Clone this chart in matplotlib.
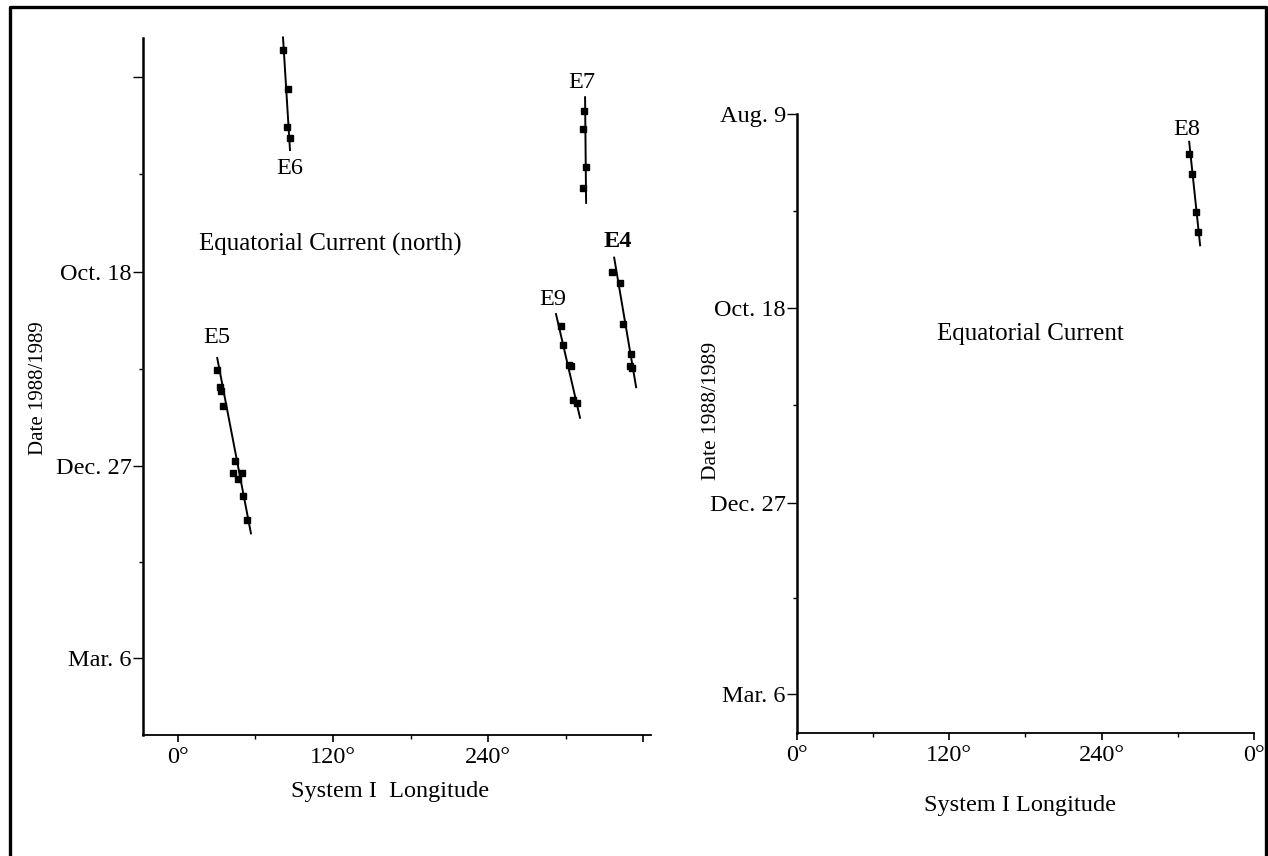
import matplotlib
matplotlib.use("Agg")
import matplotlib.pyplot as plt
from matplotlib.lines import Line2D

plt.rcParams["font.family"] = ["Liberation Serif", "DejaVu Serif"]

# Dates are given as days after Oct. 18, 1988 (Aug. 9 = -70, Mar. 6 1989 = 139)
date_ticks = [-70, 0, 70, 139]
date_minor = [-35, 35, 104.5]
left_date_labels = ["", "Oct. 18", "Dec. 27", "Mar. 6"]
right_date_labels = ["Aug. 9", "Oct. 18", "Dec. 27", "Mar. 6"]

lon_ticks = [0, 120, 240, 360]
lon_minor = [60, 180, 300]
left_lon_labels = ["0°", "120°", "240°", ""]
right_lon_labels = ["0°", "120°", "240°", "0°"]

# Equatorial current (north) features: longitude (deg), day
e6_lon = [81.3, 84.8, 84.1, 86.7]
e6_day = [-79.6, -65.6, -52.0, -48.0]
e6_fit_lon = [81.3, 86.7]
e6_fit_day = [-84.2, -43.7]

e7_lon = [313.8, 313.2, 315.8, 313.5]
e7_day = [-57.8, -51.2, -37.5, -30.1]
e7_fit_lon = [315.0, 315.8]
e7_fit_day = [-62.7, -24.7]

e4_lon = [336.0, 342.4, 344.2, 350.2, 349.6, 351.5]
e4_day = [0.0, 4.2, 18.9, 29.6, 34.0, 34.8]
e4_fit_lon = [337.5, 354.5]
e4_fit_day = [-5.0, 41.6]

e9_lon = [296.3, 297.8, 302.2, 304.0, 305.6, 308.7]
e9_day = [19.7, 26.3, 33.7, 34.0, 46.3, 47.2]
e9_fit_lon = [292.5, 311.1]
e9_fit_day = [15.3, 52.6]

e5_lon = [30.4, 32.5, 33.5, 35.1, 44.1, 42.8, 49.8, 46.7, 50.1, 53.2]
e5_day = [35.6, 41.6, 43.0, 48.5, 68.1, 72.6, 72.3, 74.6, 80.6, 89.4]
e5_fit_lon = [30.4, 56.5]
e5_fit_day = [31.1, 94.2]

# Equatorial current feature
e8_lon = [309.0, 311.4, 314.5, 315.8]
e8_day = [-55.5, -48.5, -34.8, -27.6]
e8_fit_lon = [309.0, 317.6]
e8_fit_day = [-60.0, -22.7]


def style_axes(ax, date_labels, lon_labels):
    for side in ["top", "right"]:
        ax.spines[side].set_visible(False)
    ax.spines["left"].set_linewidth(1.8)
    ax.spines["bottom"].set_linewidth(1.3)
    ax.set_yticks(date_ticks)
    ax.set_yticklabels(date_labels)
    ax.set_yticks(date_minor, minor=True)
    ax.set_xticks(lon_ticks)
    ax.set_xticklabels(lon_labels)
    ax.set_xticks(lon_minor, minor=True)
    ax.tick_params(axis="y", which="major", length=7, width=1, pad=1, labelsize=17.5)
    ax.tick_params(axis="y", which="minor", length=3, width=1)
    ax.tick_params(axis="x", which="major", length=5, width=1.2, pad=4, labelsize=17.5)
    ax.tick_params(axis="x", which="minor", length=3, width=1)


def draw_feature(ax, lon, day, fit_lon, fit_day):
    ax.plot(fit_lon, fit_day, color="black", lw=1.4, clip_on=False)
    ax.plot(lon, day, "s", color="black", ms=4.5, clip_on=False)


fig = plt.figure(figsize=(12.68, 8.56), dpi=100)

# Left panel
ax1 = fig.add_axes([0.1128, 0.1414, 0.4006, 0.8142])
ax1.set_xlim(-27, 366)
ax1.set_ylim(166.7, -84)
style_axes(ax1, left_date_labels, left_lon_labels)
for lon, day, flon, fday in [
    (e6_lon, e6_day, e6_fit_lon, e6_fit_day),
    (e7_lon, e7_day, e7_fit_lon, e7_fit_day),
    (e4_lon, e4_day, e4_fit_lon, e4_fit_day),
    (e9_lon, e9_day, e9_fit_lon, e9_fit_day),
    (e5_lon, e5_day, e5_fit_lon, e5_fit_day),
]:
    draw_feature(ax1, lon, day, flon, fday)
ax1.text(86.8, -37, "E6", fontsize=17.5, ha="center", va="center")
ax1.text(312.8, -68.1, "E7", fontsize=17.5, ha="center", va="center")
ax1.text(340.2, -10.7, "E4", fontsize=17.5, ha="center", va="center", fontweight="bold")
ax1.text(290, 10.1, "E9", fontsize=17.5, ha="center", va="center")
ax1.text(30, 23.9, "E5", fontsize=17.5, ha="center", va="center")
ax1.text(117.7, -9.7, "Equatorial Current (north)", fontsize=18,
         ha="center", va="center")

# Right panel
ax2 = fig.add_axes([0.6285, 0.1437, 0.3604, 0.7231])
ax2.set_xlim(0, 360)
ax2.set_ylim(153, -70)
style_axes(ax2, right_date_labels, right_lon_labels)
draw_feature(ax2, e8_lon, e8_day, e8_fit_lon, e8_fit_day)
ax2.text(306.8, -64.5, "E8", fontsize=17.5, ha="center", va="center")
ax2.text(183.6, 9.4, "Equatorial Current", fontsize=18, ha="center", va="center")

# Axis labels
fig.text(0.030, 0.5467, "Date 1988/1989", rotation=90, fontsize=15,
         ha="center", va="center")
fig.text(0.5615, 0.5199, "Date 1988/1989", rotation=90, fontsize=15.5,
         ha="center", va="center")
fig.text(0.3076, 1 - 792 / 856, "System I  Longitude", fontsize=17.5,
         ha="center", va="center")
fig.text(0.8044, 1 - 806 / 856, "System I Longitude", fontsize=17.5,
         ha="center", va="center")

# Outer frame (top, left, right)
frame_x = [9.5 / 1268, 9.5 / 1268, 1265.5 / 1268, 1265.5 / 1268]
frame_y = [0, 1 - 6.5 / 856, 1 - 6.5 / 856, 0]
fig.add_artist(Line2D(frame_x, frame_y, color="black", lw=2.4,
                      transform=fig.transFigure))

fig.savefig("out.png", dpi=100)
